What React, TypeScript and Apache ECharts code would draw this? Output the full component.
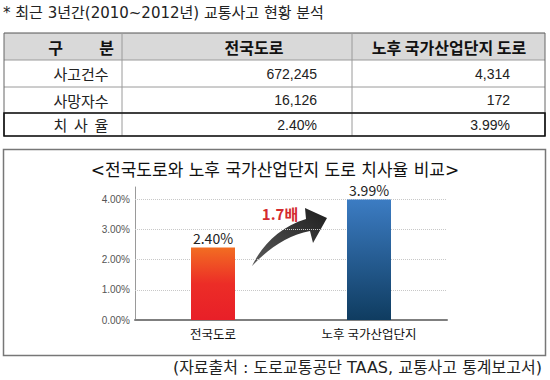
import React, { useEffect, useRef } from "react";
import * as echarts from "echarts";

const TITLE = "* 최근 3년간(2010~2012년) 교통사고 현황 분석";
const HEADERS = ["구          분", "전국도로", "노후 국가산업단지 도로"];
const ROW_LABELS = ["사고건수", "사망자수", "치  사  율"];
const ACCIDENTS = [672245, 4314];
const DEATHS = [16126, 172];
const FATALITY = [2.4, 3.99];
const CATEGORIES = ["전국도로", "노후 국가산업단지"];
const Y_TICKS = [0, 1, 2, 3, 4];
const RATIO_LABEL = "1.7배";
const CHART_TITLE = "<전국도로와 노후 국가산업단지 도로 치사율 비교>";
const SOURCE = "(자료출처 : 도로교통공단 TAAS, 교통사고 통계보고서)";

const KR = '"Noto Sans CJK KR", "Noto Sans", sans-serif';
const KR_WIDE = '"DejaVu Sans", "Noto Sans CJK KR", sans-serif';
const NUM = '"Liberation Sans", Arial, sans-serif';

const ARROW_D =
  "M 2 61 C 12 40 30 22 56 14 L 55 3 L 77 13 L 63 38 L 60 26 C 38 30 18 44 2 61 Z";

let registered = false;

export default function App() {
  const ref = useRef<HTMLDivElement>(null);

  useEffect(() => {
    if (!ref.current) return;
    if (!registered) {
      echarts.graphic.registerShape("arrowShape", echarts.graphic.extendPath(ARROW_D, {}));
      registered = true;
    }
    const chart = echarts.init(ref.current, undefined, { renderer: "svg" });

    const fmtInt = (v: number) => v.toLocaleString("en-US");
    const fmtPct = (v: number) => v.toFixed(2) + "%";
    const tableRows = [
      [ROW_LABELS[0], ...ACCIDENTS.map(fmtInt)],
      [ROW_LABELS[1], ...DEATHS.map(fmtInt)],
      [ROW_LABELS[2], ...FATALITY.map(fmtPct)],
    ];

    const colX = [4, 122, 352, 545];
    const rowY = [33, 60, 87, 113, 136];
    const labelCx = 81;
    const headerCx = [81, 254, 449];
    const valueRight = [317, 510];

    const g: any[] = [];
    g.push({
      type: "text",
      x: 3,
      y: 13,
      style: { text: TITLE, fill: "#222", font: `15px ${KR_WIDE}`, textVerticalAlign: "middle" },
    });
    g.push({
      type: "rect",
      shape: { x: colX[0], y: rowY[0], width: colX[3] - colX[0], height: rowY[1] - rowY[0] },
      style: { fill: "#D9D9D9" },
    });
    rowY.forEach((y, i) => {
      g.push({
        type: "line",
        shape: { x1: colX[0], y1: y, x2: colX[3], y2: y },
        style: { stroke: i === 0 ? "#555" : "#9a9a9a", lineWidth: 1 },
      });
    });
    colX.forEach((x, i) => {
      g.push({
        type: "line",
        shape: { x1: x, y1: rowY[0], x2: x, y2: rowY[4] },
        style: { stroke: i === 0 || i === 3 ? "#666" : "#9a9a9a", lineWidth: 1 },
      });
    });
    g.push({
      type: "rect",
      shape: { x: colX[0], y: rowY[3], width: colX[3] - colX[0], height: rowY[4] - rowY[3] },
      style: { fill: "none", stroke: "#111", lineWidth: 1.6 },
    });
    HEADERS.forEach((h, i) => {
      g.push({
        type: "text",
        x: headerCx[i],
        y: (rowY[0] + rowY[1]) / 2,
        style: {
          text: h,
          fill: "#111",
          font: `bold 16px ${KR}`,
          textAlign: "center",
          textVerticalAlign: "middle",
        },
      });
    });
    tableRows.forEach((row, r) => {
      const cy = (rowY[r + 1] + rowY[r + 2]) / 2;
      g.push({
        type: "text",
        x: labelCx,
        y: cy,
        style: { text: row[0], fill: "#222", font: `15px ${KR}`, textAlign: "center", textVerticalAlign: "middle" },
      });
      [1, 2].forEach((c) => {
        g.push({
          type: "text",
          x: valueRight[c - 1],
          y: cy,
          style: { text: row[c], fill: "#222", font: `14px ${NUM}`, textAlign: "right", textVerticalAlign: "middle" },
        });
      });
    });
    g.push({
      type: "rect",
      z: -1,
      shape: { x: 3.5, y: 149.5, width: 542, height: 206 },
      style: { fill: "none", stroke: "#777", lineWidth: 1.5 },
    });
    g.push({
      type: "text",
      x: 275,
      y: 170,
      style: { text: CHART_TITLE, fill: "#111", font: `17px ${KR_WIDE}`, textAlign: "center", textVerticalAlign: "middle" },
    });
    g.push({
      type: "arrowShape",
      x: 250,
      y: 205,
      style: {
        fill: new echarts.graphic.LinearGradient(0, 1, 1, 0, [
          { offset: 0, color: "#5a5a5a" },
          { offset: 1, color: "#1e1e1e" },
        ]),
      },
    });
    g.push({
      type: "text",
      x: 280,
      y: 213,
      style: { text: RATIO_LABEL, fill: "#D42A2F", font: `bold 15px ${KR}`, textAlign: "center", textVerticalAlign: "middle" },
    });
    g.push({
      type: "text",
      x: 542,
      y: 367,
      style: { text: SOURCE, fill: "#222", font: `16px ${KR_WIDE}`, textAlign: "right", textVerticalAlign: "middle" },
    });

    const barColors = [
      new echarts.graphic.LinearGradient(0, 0, 0, 1, [
        { offset: 0, color: "#F26D22" },
        { offset: 0.5, color: "#EC2D27" },
        { offset: 1, color: "#E81F28" },
      ]),
      new echarts.graphic.LinearGradient(0, 0, 0, 1, [
        { offset: 0, color: "#3C7CC3" },
        { offset: 1, color: "#0F3C60" },
      ]),
    ];

    chart.setOption({
      animation: false,
      backgroundColor: "#fff",
      grid: { left: 135, top: 187, width: 312, height: 133 },
      xAxis: {
        type: "category",
        data: CATEGORIES,
        axisLine: { lineStyle: { color: "#7f7f7f", width: 2 } },
        axisTick: { show: false },
        axisLabel: { color: "#111", fontSize: 12.5, fontFamily: KR, margin: 7 },
      },
      yAxis: {
        type: "value",
        min: 0,
        max: 4.4,
        interval: 1,
        axisLine: { show: true, lineStyle: { color: "#9a9a9a", width: 1 } },
        axisTick: { show: false },
        splitLine: { show: false },
        axisLabel: {
          color: "#555",
          fontSize: 10,
          fontFamily: NUM,
          margin: 5,
          formatter: (v: number) => (Y_TICKS.some((t) => Math.abs(t - v) < 1e-9) ? v.toFixed(2) + "%" : ""),
        },
      },
      series: [
        {
          type: "bar",
          z: 3,
          barWidth: 44,
          data: FATALITY.map((v, i) => ({ value: v, itemStyle: { color: barColors[i] } })),
          label: {
            show: true,
            position: "top",
            distance: 2,
            color: "#222",
            fontSize: 14,
            fontFamily: KR,
            formatter: (p: any) => fmtPct(p.value),
          },
          markLine: {
            silent: true,
            z: 1,
            symbol: ["none", "none"],
            label: { show: false },
            lineStyle: { color: "#c8c8c8", type: "dotted", width: 1 },
            data: Y_TICKS.filter((t) => t > 0).map((t) => ({ yAxis: t })),
          },
        },
      ],
      graphic: g,
    });

    return () => chart.dispose();
  }, []);

  return (
    <div
      ref={ref}
      style={{ position: "absolute", left: 0, top: 0, width: 550, height: 380, background: "#fff" }}
    />
  );
}
